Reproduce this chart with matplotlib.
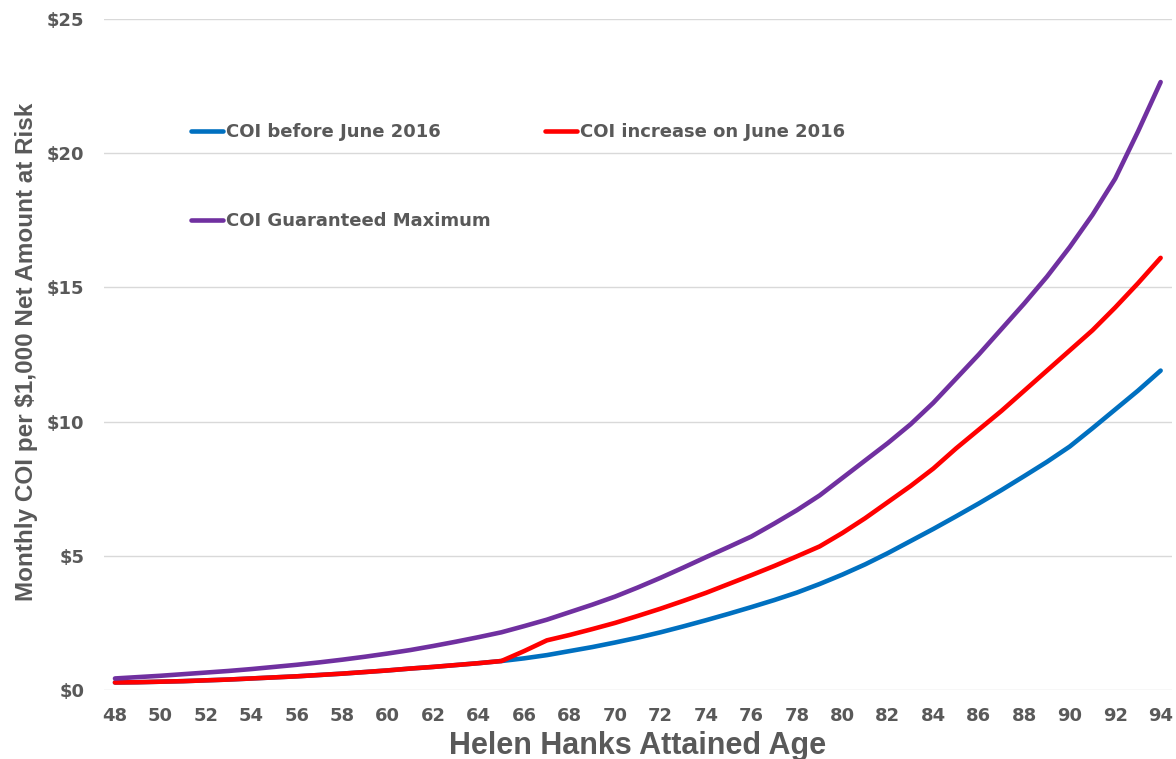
import matplotlib
matplotlib.use("Agg")
import matplotlib.pyplot as plt
from matplotlib.ticker import FuncFormatter

ages = list(range(48, 95))

coi_before = [0.28, 0.29, 0.31, 0.33, 0.36, 0.39, 0.43, 0.47, 0.51, 0.56,
              0.61, 0.67, 0.73, 0.80, 0.86, 0.93, 1.00, 1.08, 1.18, 1.30,
              1.45, 1.60, 1.77, 1.95, 2.15, 2.37, 2.60, 2.84, 3.09, 3.35,
              3.63, 3.95, 4.30, 4.68, 5.10, 5.55, 6.00, 6.47, 6.95, 7.45,
              7.97, 8.50, 9.07, 9.75, 10.45, 11.15, 11.90]

coi_increase = [0.28, 0.29, 0.31, 0.33, 0.36, 0.39, 0.43, 0.47, 0.51, 0.56,
                0.61, 0.67, 0.73, 0.80, 0.86, 0.93, 1.00, 1.08, 1.45, 1.85,
                2.05, 2.27, 2.50, 2.76, 3.03, 3.32, 3.62, 3.95, 4.28, 4.62,
                4.98, 5.35, 5.85, 6.40, 7.00, 7.60, 8.25, 9.00, 9.70, 10.40,
                11.15, 11.90, 12.65, 13.40, 14.25, 15.15, 16.10]

coi_max = [0.43, 0.48, 0.53, 0.59, 0.65, 0.71, 0.78, 0.86, 0.94, 1.03,
           1.13, 1.24, 1.36, 1.49, 1.64, 1.80, 1.97, 2.15, 2.38, 2.62,
           2.90, 3.18, 3.48, 3.82, 4.18, 4.56, 4.95, 5.33, 5.72, 6.20,
           6.70, 7.25, 7.90, 8.55, 9.20, 9.90, 10.70, 11.60, 12.50, 13.45,
           14.40, 15.40, 16.50, 17.70, 19.05, 20.80, 22.65]

series_labels = ["COI before June 2016", "COI increase on June 2016", "COI Guaranteed Maximum"]
x_ticks = list(range(48, 95, 2))
y_ticks = [0, 5, 10, 15, 20, 25]

plt.rcParams['font.family'] = ['Liberation Sans', 'DejaVu Sans']
plt.rcParams['font.weight'] = 'bold'
TXT = '#595959'
WIDE = ['DejaVu Sans']

fig = plt.figure(figsize=(11.76, 7.59), dpi=100)
ax = fig.add_axes([0.0881, 0.0909, 0.9085, 0.8841])

lb, = ax.plot(ages, coi_before, color='#0070C0', lw=3.3, solid_capstyle='round', zorder=3)
lr, = ax.plot(ages, coi_increase, color='#FF0000', lw=3.3, solid_capstyle='round', zorder=4)
lp, = ax.plot(ages, coi_max, color='#7030A0', lw=3.3, solid_capstyle='round', zorder=5)

ax.set_xlim(47.5, 94.5)
ax.set_ylim(0, 25)
ax.set_xticks(x_ticks)
ax.set_yticks(y_ticks)
ax.yaxis.set_major_formatter(FuncFormatter(lambda v, p: f"${int(v)}"))
ax.grid(axis='y', color='#D9D9D9', lw=1)
ax.set_axisbelow(True)
for s in ax.spines.values():
    s.set_visible(False)
ax.tick_params(axis='both', length=0, labelcolor=TXT)
ax.tick_params(axis='y', pad=14)
ax.tick_params(axis='x', pad=12)
for t in ax.get_xticklabels() + ax.get_yticklabels():
    t.set_fontweight('bold')
    t.set_family(WIDE)
    t.set_fontsize(13)

ax.set_xlabel("Helen Hanks Attained Age", fontsize=22, fontweight='bold', color=TXT)
ax.xaxis.set_label_coords(0.5, -0.083)
ax.xaxis.label.set_va('center')
ax.set_ylabel("Monthly COI per $1,000 Net Amount at Risk", fontsize=17.5, fontweight='bold', color=TXT)
ax.yaxis.set_label_coords(-0.072, 0.504)
ax.yaxis.label.set_va('center')

leg = ax.legend([lb, lp, lr], [series_labels[0], series_labels[2], series_labels[1]],
                ncol=2, loc='upper left', bbox_to_anchor=(0.075, 0.856),
                frameon=False, prop={'family': WIDE, 'weight': 'bold', 'size': 13},
                handlelength=1.8, handletextpad=0.15,
                labelspacing=3.95, columnspacing=3.0, borderaxespad=0)
for t in leg.get_texts():
    t.set_color(TXT)

fig.savefig("out.png", dpi=100, facecolor='white')
